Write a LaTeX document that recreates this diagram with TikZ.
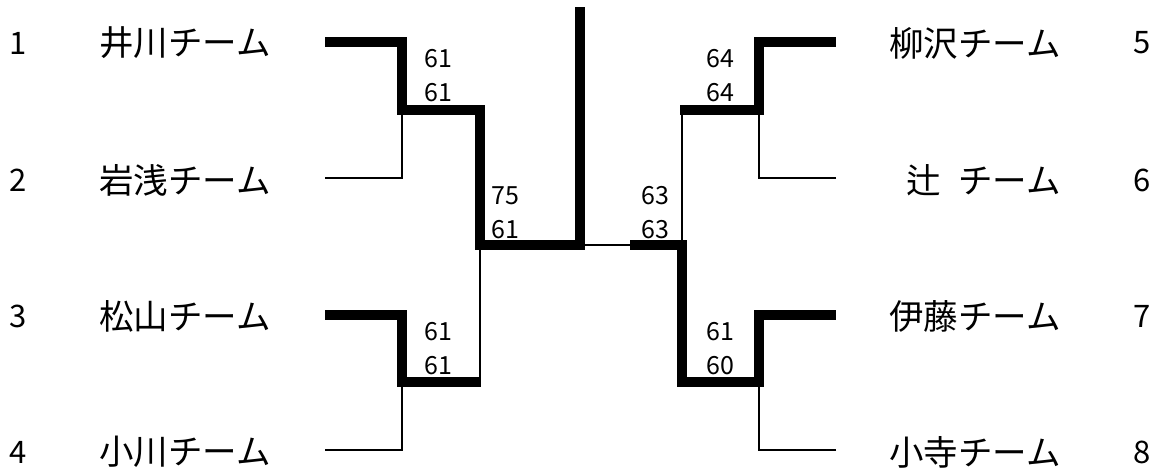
\documentclass[tikz,border=0pt]{standalone}
\usepackage{fontspec}
\setmainfont{Noto Sans CJK JP}
\begin{document}
\begin{tikzpicture}[x=1pt,y=-1pt,
  thickln/.style={line width=10pt,line join=miter,line cap=butt},
  thinln/.style={line width=2.6pt,line join=miter,line cap=butt},
  team/.style={inner sep=0pt,font=\fontsize{34.5}{38}\selectfont},
  seed/.style={inner sep=0pt,font=\fontsize{31}{34}\selectfont},
  score/.style={inner sep=0pt,font=\fontsize{25}{28}\selectfont}]
\useasboundingbox[fill=white] (0,0) rectangle (1160,471);
% team labels
\node[seed] (n1) at (18,43) {1};
\node[seed] (n2) at (18,180) {2};
\node[seed] (n3) at (18,316) {3};
\node[seed] (n4) at (18,452) {4};
\node[team,anchor=west] (t1) at (99,43) {井川チーム};
\node[team,anchor=west] (t2) at (99,180) {岩浅チーム};
\node[team,anchor=west] (t3) at (99,316) {松山チーム};
\node[team,anchor=west] (t4) at (99,452) {小川チーム};
\node[seed] (n5) at (1142,43) {5};
\node[seed] (n6) at (1142,180) {6};
\node[seed] (n7) at (1142,316) {7};
\node[seed] (n8) at (1142,452) {8};
\node[team,anchor=east] (t5) at (1061,43) {柳沢チーム};
\node[team,anchor=east] (t6) at (1061,180) {辻\hspace{0.5em}チーム};
\node[team,anchor=east] (t7) at (1061,316) {伊藤チーム};
\node[team,anchor=east] (t8) at (1061,452) {小寺チーム};
% scores
\node[score] (s1a) at (438,59) {61};
\node[score] (s1b) at (438,93) {61};
\node[score] (s2a) at (438,332) {61};
\node[score] (s2b) at (438,366) {61};
\node[score] (s3a) at (505,196) {75};
\node[score] (s3b) at (505,230) {61};
\node[score] (s4a) at (720,59) {64};
\node[score] (s4b) at (720,93) {64};
\node[score] (s5a) at (655,196) {63};
\node[score] (s5b) at (655,230) {63};
\node[score] (s6a) at (720,332) {61};
\node[score] (s6b) at (720,366) {60};
% bracket coordinates, left
\coordinate (a1) at (325,42);  \coordinate (a1c) at (402,42);
\coordinate (a2) at (325,178); \coordinate (a2c) at (402,178);
\coordinate (m12) at (402,110); \coordinate (m12r) at (480,110);
\coordinate (a3) at (325,315); \coordinate (a3c) at (402,315);
\coordinate (a4) at (325,450); \coordinate (a4c) at (402,450);
\coordinate (m34) at (402,382); \coordinate (m34r) at (481,382);
\coordinate (m34t) at (480,382);
\coordinate (fl) at (480,245); \coordinate (fc) at (580,245);
\coordinate (top) at (580,7); \coordinate (fce) at (585,245);
% right
\coordinate (fr) at (630,245); \coordinate (fr2) at (682,245);
\coordinate (b5) at (836,42);  \coordinate (b5c) at (759,42);
\coordinate (b6) at (836,178); \coordinate (b6c) at (759,178);
\coordinate (m56) at (759,110); \coordinate (m56l) at (682,110);
\coordinate (m56l2) at (680,110);
\coordinate (b7) at (836,315); \coordinate (b7c) at (759,315);
\coordinate (b8) at (836,450); \coordinate (b8c) at (759,450);
\coordinate (m78) at (759,382); \coordinate (m78l) at (682,382);
% thin lines
\draw[thinln] (a2) -- (a2c) -- (m12);
\draw[thinln] (a4) -- (a4c) -- (m34);
\draw[thinln] (m34t) -- (fl);
\draw[thinln] (fce) -- (fr);
\draw[thinln] (fr2) -- (m56l);
\draw[thinln] (b6) -- (b6c) -- (m56);
\draw[thinln] (b8) -- (b8c) -- (m78);
% thick winner lines
\draw[thickln] (a1) -- (a1c) -- (m12) -- (m12r) -- (fl) -- (fc) -- (top);
\draw[thickln] (fc) -- (fce);
\draw[thickln] (a3) -- (a3c) -- (m34) -- (m34r);
\draw[thickln] (fr) -- (fr2) -- (m78l) -- (m78) -- (b7c) -- (b7);
\draw[thickln] (m56l2) -- (m56) -- (b5c) -- (b5);
\end{tikzpicture}
\end{document}
